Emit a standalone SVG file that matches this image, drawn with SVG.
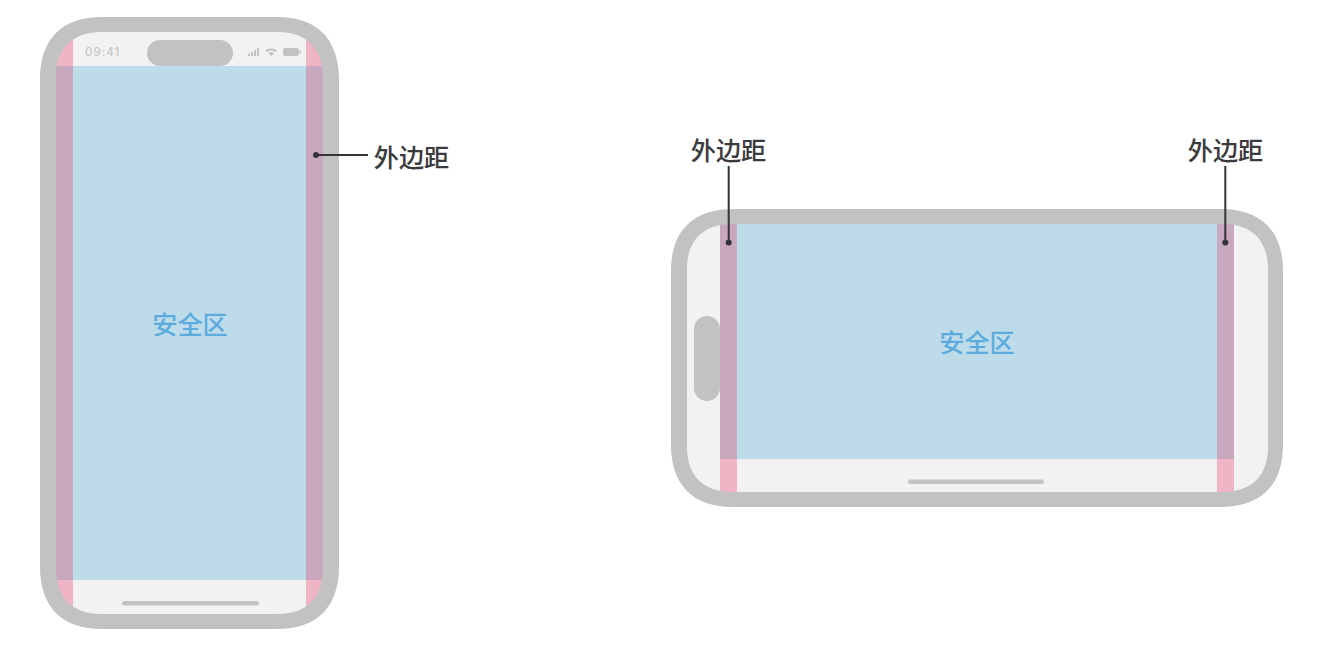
<svg xmlns="http://www.w3.org/2000/svg" width="1320" height="672" viewBox="0 0 1320 672">
  <style>
    .screen{fill:#f2f2f3}
    .dark{fill:#c2c2c2}
    .ring{fill:#c2c2c2;fill-rule:evenodd}
    .margin{fill:#f0b5c4}
    .overlap{fill:#c8a7bf}
    .safe{fill:#bedbea}
    .lead{stroke:#33333a;stroke-width:2;fill:none}
    .dot{fill:#33333a}
    text{font-family:"Noto Sans CJK SC","Noto Sans",sans-serif}
    .lbl{font-size:25.200px;font-weight:500;fill:#3b3b3d;text-anchor:middle}
    .safe-lbl{font-size:25.200px;font-weight:500;fill:#5cabdf;text-anchor:middle}
    .st{font-family:"Inter","Liberation Sans",sans-serif;font-size:11.500px;font-weight:500;fill:#c6c6c6;letter-spacing:1px}
  </style>
  <rect width="1320" height="672" fill="#fff"/>

  <g id="phone-portrait">
    <path class="screen" d="M102 32H277C307 32 323 48 323 78V568C323 598 307 614 277 614H102C72 614 56 598 56 568V78C56 48 72 32 102 32Z"/>
    <rect class="margin" x="54" y="34" width="19" height="578"/>
    <rect class="margin" x="306" y="34" width="19" height="578"/>
    <rect class="safe" x="73" y="66" width="233" height="514"/>
    <rect class="overlap" x="54" y="66" width="19" height="514"/>
    <rect class="overlap" x="306" y="66" width="19" height="514"/>
    <path class="ring" d="M102 17H277C317 17 339 39 339 79V567C339 607 317 629 277 629H102C62 629 40 607 40 567V79C40 39 62 17 102 17ZM102 32C72 32 56 48 56 78V568C56 598 72 614 102 614H277C307 614 323 598 323 568V78C323 48 307 32 277 32Z"/>
    <rect class="dark" x="147" y="40" width="86" height="26" rx="13"/>
    <rect class="dark" x="122" y="601" width="137" height="4.600" rx="2.300"/>
    <text class="st" x="85" y="56">09:41</text>
    <g id="status-icons" class="dark">
      <rect x="248" y="53.500" width="2" height="2.500" rx=".5"/>
      <rect x="251" y="52" width="2" height="4" rx=".5"/>
      <rect x="254" y="50" width="2" height="6" rx=".5"/>
      <rect x="257" y="48" width="2" height="8" rx=".5"/>
      <path d="M265.500 50.500a9 9 0 0 1 11.500 0l-1.500 1.700a6.500 6.500 0 0 0-8.500 0zM268.500 53.200a4 4 0 0 1 5.500 0l-2.750 3z"/>
      <rect x="283" y="48" width="16" height="8" rx="2.500"/>
      <rect x="299.500" y="50.500" width="1.500" height="3" rx=".7"/>
    </g>
    <text class="safe-lbl" x="190" y="334">安全区</text>
  </g>

  <g id="phone-landscape">
    <path class="screen" d="M733 224H1222C1252 224 1268 240 1268 270V446C1268 476 1252 492 1222 492H733C703 492 687 476 687 446V270C687 240 703 224 733 224Z"/>
    <rect class="margin" x="720" y="222" width="17" height="272"/>
    <rect class="margin" x="1217" y="222" width="17" height="272"/>
    <rect class="safe" x="737" y="222" width="480" height="237"/>
    <rect class="overlap" x="720" y="222" width="17" height="237"/>
    <rect class="overlap" x="1217" y="222" width="17" height="237"/>
    <path class="ring" d="M733 209H1221C1261 209 1283 231 1283 271V445C1283 485 1261 507 1221 507H733C693 507 671 485 671 445V271C671 231 693 209 733 209ZM733 224C703 224 687 240 687 270V446C687 476 703 492 733 492H1222C1252 492 1268 476 1268 446V270C1268 240 1252 224 1222 224Z"/>
    <rect class="dark" x="694" y="316" width="26" height="85" rx="13"/>
    <rect class="dark" x="908" y="479.500" width="136" height="4.600" rx="2.300"/>
    <text class="safe-lbl" x="977" y="351.500">安全区</text>
  </g>

  <g id="connectors">
    <path class="lead" d="M316 155H368"/>
    <circle class="dot" cx="316" cy="155" r="3"/>
    <path class="lead" d="M728.700 166V242"/>
    <circle class="dot" cx="728.700" cy="242.500" r="3"/>
    <path class="lead" d="M1225.300 166V242"/>
    <circle class="dot" cx="1225.300" cy="242.500" r="3"/>
  </g>

  <g id="label-portrait"><text class="lbl" x="411.500" y="167">外边距</text></g>
  <g id="label-landscape-left"><text class="lbl" x="728.500" y="160">外边距</text></g>
  <g id="label-landscape-right"><text class="lbl" x="1225.500" y="160">外边距</text></g>
</svg>
